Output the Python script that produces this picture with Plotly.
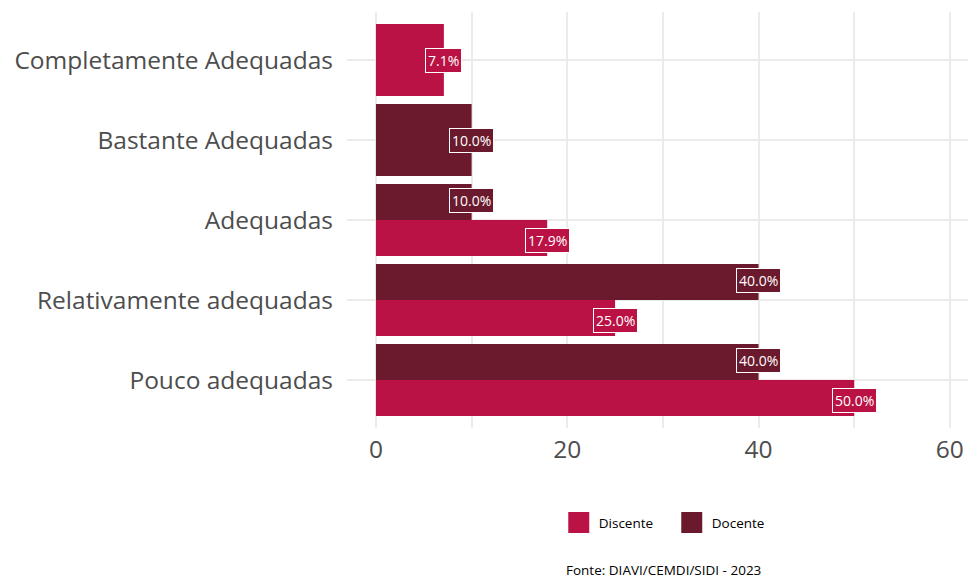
import plotly.graph_objects as go

# ---------------- data ----------------
categories = [
    "Completamente Adequadas",
    "Bastante Adequadas",
    "Adequadas",
    "Relativamente adequadas",
    "Pouco adequadas",
]
series_names = ["Discente", "Docente"]
discente = [7.1, None, 17.9, 25.0, 50.0]
docente = [None, 10.0, 10.0, 40.0, 40.0]
series_values = [discente, docente]
series_colors = ["#BA1245", "#6B1A2D"]
x_ticks = [0, 20, 40, 60]
caption = "Fonte: DIAVI/CEMDI/SIDI - 2023"

FONT = "Open Sans"
n_cat = len(categories)
positions = [n_cat - i for i in range(n_cat)]  # top category highest

fig = go.Figure()

# dodge computation (ggplot-like: single bar fills full group width)
bar_group = 0.9
label_group = 1.0
traces = {s: {"x": [], "y": [], "w": [], "o": []} for s in range(len(series_names))}
labels = []
for i in range(n_cat):
    present = [s for s in range(len(series_names)) if series_values[s][i] is not None]
    n = len(present)
    for k, s in enumerate(present):
        w = bar_group / n
        off = -bar_group / 2 + k * w
        v = series_values[s][i]
        traces[s]["x"].append(v)
        traces[s]["y"].append(positions[i])
        traces[s]["w"].append(w)
        traces[s]["o"].append(off)
        ly = positions[i] - label_group / 2 + (k + 0.5) * (label_group / n)
        labels.append((v, ly, series_colors[s]))

for s, name in enumerate(series_names):
    t = traces[s]
    fig.add_trace(go.Bar(
        x=t["x"], y=t["y"], width=t["w"], offset=t["o"], orientation="h",
        marker=dict(color=series_colors[s], line=dict(width=0)),
        name=name, showlegend=False, hoverinfo="x+name",
    ))

# legend entries
for s, name in enumerate(series_names):
    fig.add_trace(go.Scatter(
        x=[None], y=[None], mode="markers", name=name,
        marker=dict(symbol="square", size=16, color=series_colors[s],
                    line=dict(width=5, color=series_colors[s])),
    ))

for v, ly, c in labels:
    fig.add_annotation(
        x=v, y=ly, xref="x", yref="y", text=f"{v:.1f}%", showarrow=False,
        font=dict(family=FONT, size=14, color="white"),
        bgcolor=c, bordercolor="white", borderwidth=1, borderpad=2,
        xanchor="center", yanchor="middle",
    )

fig.add_annotation(
    x=0.509, y=-0.342, xref="paper", yref="paper", text=caption, showarrow=False,
    font=dict(family=FONT, size=13.5, color="black"),
    xanchor="center", yanchor="middle",
)

fig.update_layout(
    width=968, height=578,
    margin=dict(l=347, r=0, t=12, b=150),
    plot_bgcolor="white", paper_bgcolor="white",
    barmode="overlay",
    font=dict(family=FONT),
    legend=dict(
        orientation="h", x=0.341, y=-0.228, xanchor="left", yanchor="middle",
        entrywidth=68, entrywidthmode="pixels",
        font=dict(family=FONT, size=13.5, color="black"),
        itemclick=False, itemdoubleclick=False,
    ),
)
fig.update_xaxes(
    range=[-3.03, 61.9], tickvals=x_ticks, showgrid=True, gridcolor="#EBEBEB",
    gridwidth=2, zeroline=False, showline=False,
    tickfont=dict(family=FONT, size=24.5, color="#4D4D4D"),
    minor=dict(dtick=10, showgrid=True, gridcolor="#EBEBEB", gridwidth=1.5),
    ticks="", ticklabelstandoff=4,
)
fig.update_yaxes(
    range=[0.4, n_cat + 0.6], tickvals=positions, ticktext=categories,
    showgrid=True, gridcolor="#EBEBEB", gridwidth=2, zeroline=False, showline=False,
    tickfont=dict(family=FONT, size=24.5, color="#4D4D4D"),
    ticks="", ticklabelstandoff=13,
)

fig.write_html(
    "out.html",
    config={"displayModeBar": False},
    post_script="document.body.style.margin='0px';document.body.style.overflow='hidden';",
)
